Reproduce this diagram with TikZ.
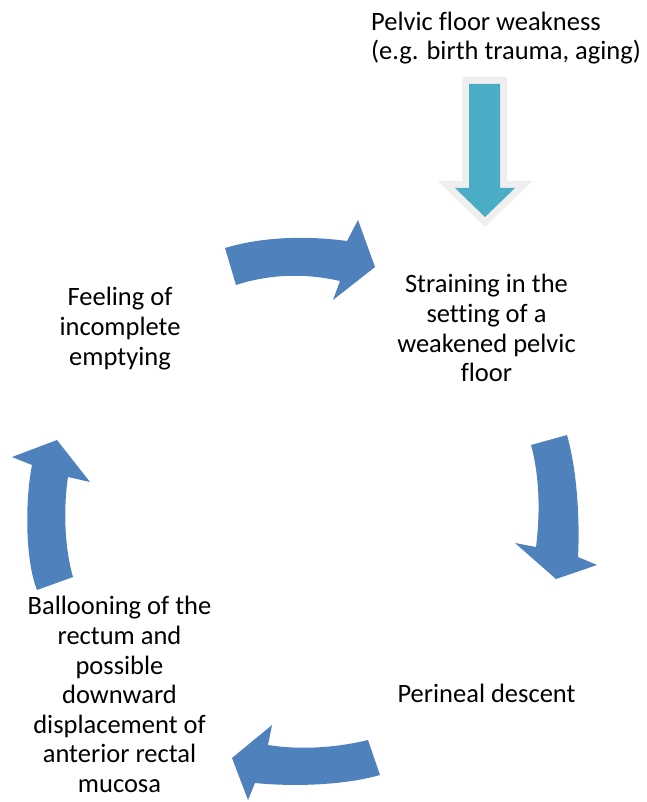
\documentclass[tikz,border=0pt]{standalone}
\usepackage{fontspec}
\setmainfont{Carlito}[Ligatures=NoCommon]

\definecolor{cycleblue}{HTML}{4F81BD}
\definecolor{causeteal}{HTML}{4BACC6}
\definecolor{glowgray}{HTML}{EFEFEF}

\tikzset{
  steptext/.style={align=center, inner sep=0pt, anchor=base, font=\fontsize{26.5}{29.6}\selectfont},
  cyclearrow/.style={fill=cycleblue},
  causearrow/.style={fill=causeteal, preaction={draw=glowgray, line width=14pt}}
}

\begin{document}
\begin{tikzpicture}[x=1pt,y=-1pt]
  \useasboundingbox (0,0) rectangle (646,802);

  % Cause
  \node[steptext, align=left, anchor=base west] (cause) at (371,60) {Pelvic floor weakness\\ (e.g. birth trauma, aging)};
  \fill[causearrow] (469,84) -- (500,84) -- (500,188) -- (515,188) -- (485,217) -- (455,188) -- (469,188) -- cycle;

  % Steps of the cycle (placed by the baseline of their last line)
  \node[steptext] (straining) at (486.5,381.7) {Straining in the\\ setting of a\\ weakened pelvic\\ floor};
  \node[steptext] (descent) at (486.5,702) {Perineal descent};
  \node[steptext] (ballooning) at (119.5,792.5) {Ballooning of the\\ rectum and\\ possible\\ downward\\ displacement of\\ anterior rectal\\ mucosa};
  \node[steptext] (feeling) at (120,365) {Feeling of\\ incomplete\\ emptying};

  % Curved arrows
  \fill[cyclearrow] (225,248) .. controls (265,236) and (310,236) .. (347,241) -- (358,220) -- (375,267) -- (333,300) -- (340,281) .. controls (305,273) and (270,274) .. (236,285) -- cycle;
  \fill[cyclearrow] (531,445) .. controls (540,478) and (540,515) .. (536,547) -- (515,543) -- (556,579) -- (597,565) -- (578,557) .. controls (580,520) and (577,470) .. (567,435) -- cycle;
  \fill[cyclearrow] (368,740) .. controls (335,748) and (300,750) .. (268,745) -- (272,725) -- (232,758) -- (248,800) -- (255,783) .. controls (295,787) and (345,785) .. (380,775) -- cycle;
  \fill[cyclearrow] (37,590) .. controls (25,560) and (25,500) .. (32,465) -- (12,457) -- (57,440) -- (90,482) -- (68,477) .. controls (63,510) and (65,550) .. (73,577) -- cycle;
\end{tikzpicture}
\end{document}
